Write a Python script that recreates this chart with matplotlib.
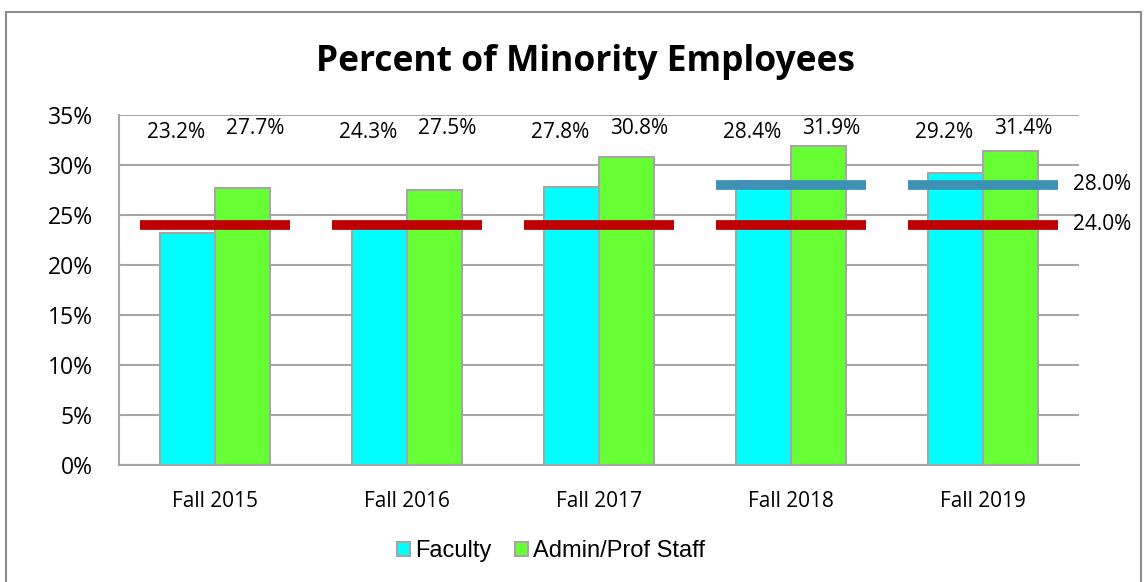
import matplotlib.pyplot as plt
from matplotlib.patches import Rectangle
import numpy as np

# data
years = ['Fall 2015', 'Fall 2016', 'Fall 2017', 'Fall 2018', 'Fall 2019']
faculty = [23.2, 24.3, 27.8, 28.4, 29.2]
admin = [27.7, 27.5, 30.8, 31.9, 31.4]
goal_low = [24.0, 24.0, 24.0, 24.0, 24.0]
goal_high = [None, None, None, 28.0, 28.0]

cyan = '#00FFFF'
green = '#66FF33'
red = '#C00000'
blue = '#3C91B4'
edge = '#A6A6A6'
font = 'Open Sans'

fig = plt.figure(figsize=(11.48, 5.82), dpi=100)
ax = fig.add_axes([119 / 1148, 117 / 582, 960 / 1148, 350 / 582])

# border around the whole chart
fig.patches.append(Rectangle((6 / 1148, -0.01), 1135 / 1148, 1.01 - 12 / 582,
                             transform=fig.transFigure, fill=False,
                             edgecolor='#8C8C8C', linewidth=1.5))

x = np.arange(len(years))
w = 0.286
ax.bar(x - w / 2, faculty, w, color=cyan, edgecolor=edge, linewidth=1.5,
       label='Faculty', zorder=2)
ax.bar(x + w / 2, admin, w, color=green, edgecolor=edge, linewidth=1.5,
       label='Admin/Prof Staff', zorder=2)

# goal lines
lw = 0.78
for i in range(len(years)):
    ax.hlines(goal_low[i], i - lw / 2, i + lw / 2, color=red, linewidth=7, zorder=3)
    if goal_high[i] is not None:
        ax.hlines(goal_high[i], i - lw / 2, i + lw / 2, color=blue, linewidth=7, zorder=3)

ax.text(len(years) - 0.53, 28.0, '%.1f%%' % 28.0, fontsize=15, family=font,
        va='center', ha='left')
ax.text(len(years) - 0.53, 24.0, '%.1f%%' % 24.0, fontsize=15, family=font,
        va='center', ha='left')

# value labels along the top
for i in range(len(years)):
    ax.annotate('%.1f%%' % faculty[i], (x[i] - w / 2, 33.2), xytext=(-8, 0),
                textcoords='offset points', ha='center', va='center',
                fontsize=15, family=font)
    ax.annotate('%.1f%%' % admin[i], (x[i] + w / 2, 33.6), xytext=(9, 0),
                textcoords='offset points', ha='center', va='center',
                fontsize=15, family=font)

ax.set_xlim(-0.5, len(years) - 0.5)
ax.set_ylim(0, 35)
ax.set_yticks(range(0, 36, 5))
ax.set_yticklabels(['%d%%' % v for v in range(0, 36, 5)], fontsize=16.5, family=font)
ax.set_xticks(x)
ax.set_xticklabels(years, fontsize=15, family=font)
ax.tick_params(axis='both', length=0)
ax.tick_params(axis='y', pad=19)
ax.tick_params(axis='x', pad=19)
ax.grid(axis='y', color='#A6A6A6', linewidth=1.5, zorder=0)
ax.set_axisbelow(True)
for s in ['top', 'right']:
    ax.spines[s].set_visible(False)
ax.spines['left'].set_color('#A6A6A6')
ax.spines['bottom'].set_color('#A6A6A6')
ax.spines['left'].set_linewidth(1.5)
ax.spines['bottom'].set_linewidth(1.5)

fig.text(585 / 1148, 1 - 62 / 582, 'Percent of Minority Employees', fontsize=25.5,
         fontweight='bold', family=font, ha='center', va='center')

leg = fig.legend(loc='center', bbox_to_anchor=(551 / 1148, 1 - 551 / 582), ncol=2,
                 frameon=False, prop={'family': 'Liberation Sans', 'size': 17},
                 handlelength=0.55, handleheight=0.55, handletextpad=0.2,
                 columnspacing=1.0)

fig.savefig('out.png', dpi=100)
